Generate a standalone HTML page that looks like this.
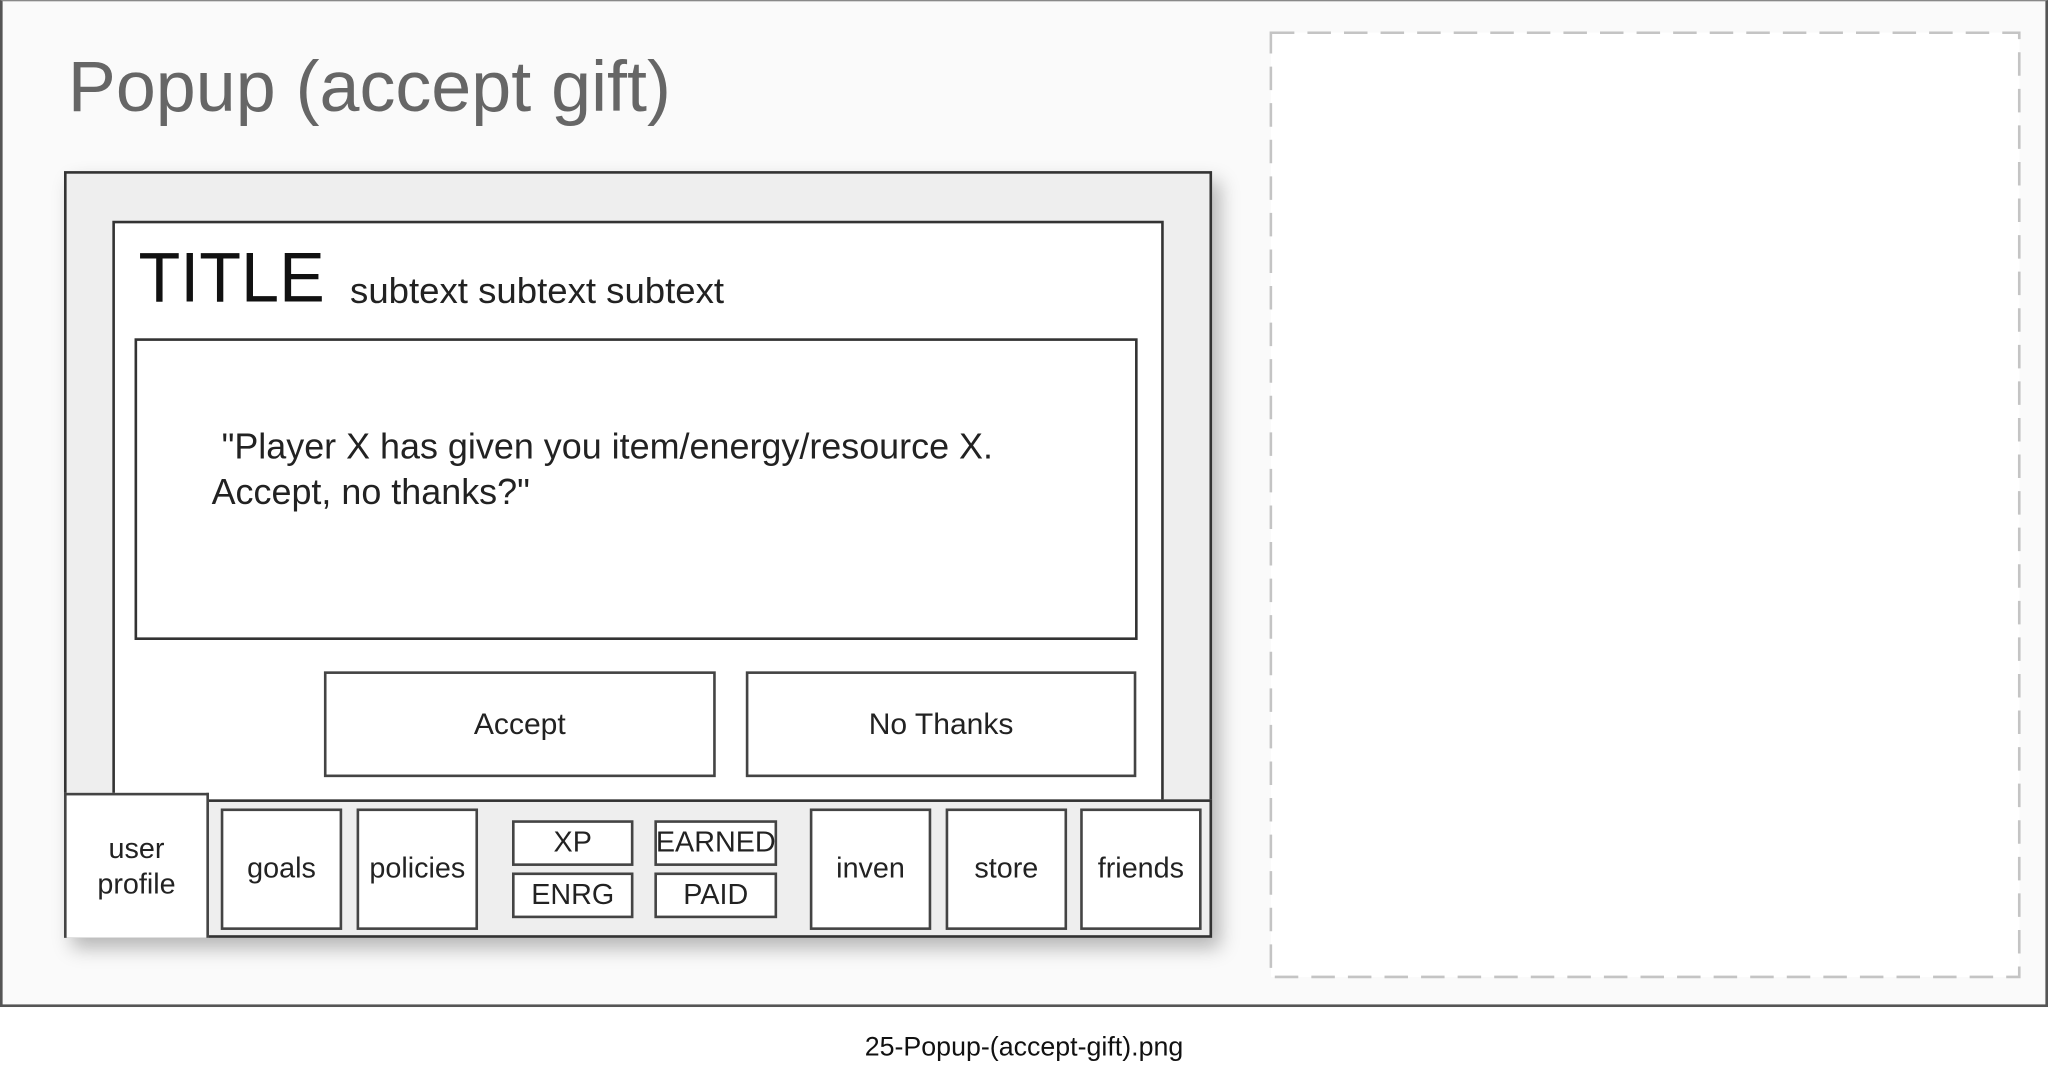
<!DOCTYPE html>
<html><head><meta charset="utf-8"><style>
html,body{margin:0;padding:0;background:#fff;width:2048px;height:1072px;overflow:hidden}
#s{position:absolute;left:0;top:0;width:1568px;height:821px;transform:scale(1.306122);transform-origin:0 0;font-family:"Liberation Sans",sans-serif}
.a{position:absolute;box-sizing:border-box}
.b{border:2px solid #444;background:#fff;display:flex;align-items:center;justify-content:center;text-align:center;color:#222;font-size:22px;line-height:1.2}
</style></head><body><div id="s">
<div class="a" style="left:0;top:0;width:1568px;height:771px;border:2px solid #555;border-top:1px solid #888;background:#fafafa"></div>
<div class="a" style="left:52px;top:34px;font-size:55px;color:#666;white-space:nowrap">Popup (accept gift)</div>
<svg class="a" style="left:972px;top:24px" width="576" height="726"><rect x="1" y="1" width="573" height="723" fill="#fff" stroke="#c4c4c4" stroke-width="2" stroke-dasharray="18 10"/></svg>
<div class="a" style="left:49px;top:131px;width:879px;height:587px;border:2px solid #333;background:#eee;box-shadow:6px 8px 14px rgba(0,0,0,0.28)"></div>
<div class="a" style="left:86px;top:169px;width:805px;height:446px;border:2px solid #333;background:#fff"></div>
<div class="a" style="left:106px;top:182px;font-size:54px;color:#111;white-space:nowrap;transform:scaleX(0.97);transform-origin:0 0">TITLE</div>
<div class="a" style="left:268px;top:207px;font-size:28px;color:#222;white-space:nowrap">subtext subtext subtext</div>
<div class="a" style="left:103px;top:259px;width:768px;height:231px;border:2px solid #333;background:#fff"></div>
<div class="a" style="left:162px;top:324px;font-size:27.5px;color:#222;line-height:35px;white-space:nowrap">&nbsp;"Player X has given you item/energy/resource X.<br>Accept, no thanks?"</div>
<div class="a b" style="left:248px;top:514px;width:300px;height:81px;font-size:23px">Accept</div>
<div class="a b" style="left:571px;top:514px;width:299px;height:81px;font-size:23px">No Thanks</div>
<div class="a" style="left:49px;top:612px;width:879px;height:106px;border:2px solid #333;background:#eee"></div>
<div class="a b" style="left:49px;top:607px;width:111px;height:111px;border-bottom:none">user<br>profile</div>
<div class="a b" style="left:169px;top:619px;width:93px;height:93px">goals</div>
<div class="a b" style="left:273px;top:619px;width:93px;height:93px">policies</div>
<div class="a b" style="left:392px;top:628px;width:93px;height:35px">XP</div>
<div class="a b" style="left:392px;top:668px;width:93px;height:35px">ENRG</div>
<div class="a b" style="left:501px;top:628px;width:94px;height:35px">EARNED</div>
<div class="a b" style="left:501px;top:668px;width:94px;height:35px">PAID</div>
<div class="a b" style="left:620px;top:619px;width:93px;height:93px">inven</div>
<div class="a b" style="left:724px;top:619px;width:93px;height:93px">store</div>
<div class="a b" style="left:827px;top:619px;width:93px;height:93px">friends</div>
<div class="a" style="left:0;top:790px;width:1568px;text-align:center;font-size:20.5px;color:#111">25-Popup-(accept-gift).png</div>
</div></body></html>
